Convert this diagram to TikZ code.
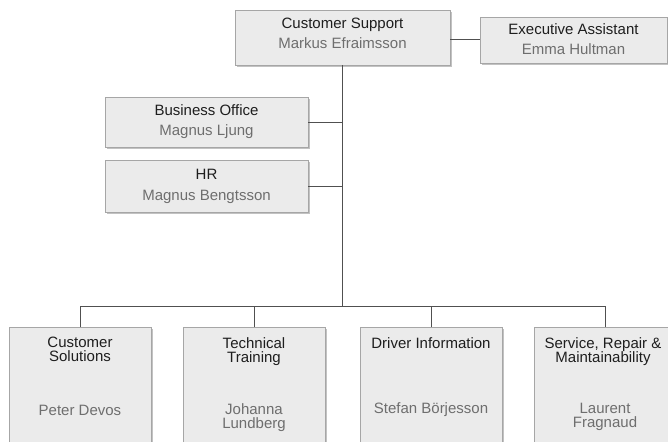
\documentclass[tikz,border=0pt]{standalone}
\usepackage{fontspec}
\setmainfont{Liberation Sans}
\usetikzlibrary{shadows}
\definecolor{boxfill}{HTML}{EBEBEB}
\definecolor{boxline}{HTML}{A6A6A6}
\definecolor{titlecol}{HTML}{1E1E1E}
\definecolor{namecol}{HTML}{6E6E6E}
\definecolor{linkcol}{HTML}{505050}
\tikzset{
  unitbox/.style={draw=boxline, fill=boxfill, line width=0.9pt, inner sep=0pt,
    drop shadow={shadow xshift=2pt, shadow yshift=-2pt, fill=black!40, opacity=0.6}},
  ttl/.style={text=titlecol, font=\fontsize{15}{14}\selectfont, align=center, inner sep=0pt},
  nm/.style={text=namecol, font=\fontsize{15}{14}\selectfont, align=center, inner sep=0pt},
  link/.style={draw=linkcol, line width=1pt}
}
\begin{document}
\begin{tikzpicture}[x=1pt,y=-1pt]
\useasboundingbox (0,0) rectangle (668,441);
\begin{scope}
\clip (0,0) rectangle (668,441);
% boxes
\node[unitbox, minimum width=215pt, minimum height=55pt] (cs) at (342.5,37.5) {};
\node[unitbox, minimum width=187pt, minimum height=46pt] (ea) at (573.5,40) {};
\node[unitbox, minimum width=203pt, minimum height=50pt] (bo) at (206.5,122) {};
\node[unitbox, minimum width=203pt, minimum height=52pt] (hr) at (206.5,186) {};
\node[unitbox, minimum width=142pt, minimum height=120pt, anchor=north] (c1) at (80,327) {};
\node[unitbox, minimum width=142pt, minimum height=120pt, anchor=north] (c2) at (254,327) {};
\node[unitbox, minimum width=142pt, minimum height=120pt, anchor=north] (c3) at (431,327) {};
\node[unitbox, minimum width=142pt, minimum height=120pt, anchor=north] (c4) at (605,327) {};
% connectors
\coordinate (bus) at (342,306);
\draw[link] (cs.south -| bus) -- (bus);
\draw[link] (ea.west) -- (ea.west -| cs.east);
\draw[link] (bo.east) -- (bo.east -| bus);
\draw[link] (hr.east) -- (hr.east -| bus);
\draw[link] (c1.north) |- (bus);
\draw[link] (c2.north) |- (bus);
\draw[link] (c3.north) |- (bus);
\draw[link] (c4.north) |- (bus);
% texts
\node[ttl] (cst) at (342.5,25) {Customer Support};
\node[nm]  (csn) at (342.5,43) {Markus Efraimsson};
\node[ttl] (eat) at (573.5,29) {Executive Assistant};
\node[nm]  (ean) at (573.5,49) {Emma Hultman};
\node[ttl] (bot) at (206.5,110) {Business Office};
\node[nm]  (bon) at (206.5,132) {Magnus Ljung};
\node[ttl] (hrt) at (206.5,174) {HR};
\node[nm]  (hrn) at (206.5,197) {Magnus Bengtsson};
\node[ttl, anchor=north] (c1t) at (80,337) {Customer\\Solutions};
\node[nm] (c1n) at (80,410) {Peter Devos};
\node[ttl, anchor=north] (c2t) at (254,337) {Technical\\Training};
\node[nm, anchor=north] (c2n) at (254,403) {Johanna\\Lundberg};
\node[ttl, anchor=north] (c3t) at (431,337) {Driver Information};
\node[nm] (c3n) at (431,410) {Stefan Börjesson};
\node[ttl, anchor=north] (c4t) at (603,337) {Service, Repair \&\\Maintainability};
\node[nm, anchor=north] (c4n) at (605,403) {Laurent\\Fragnaud};
\end{scope}
\end{tikzpicture}
\end{document}
